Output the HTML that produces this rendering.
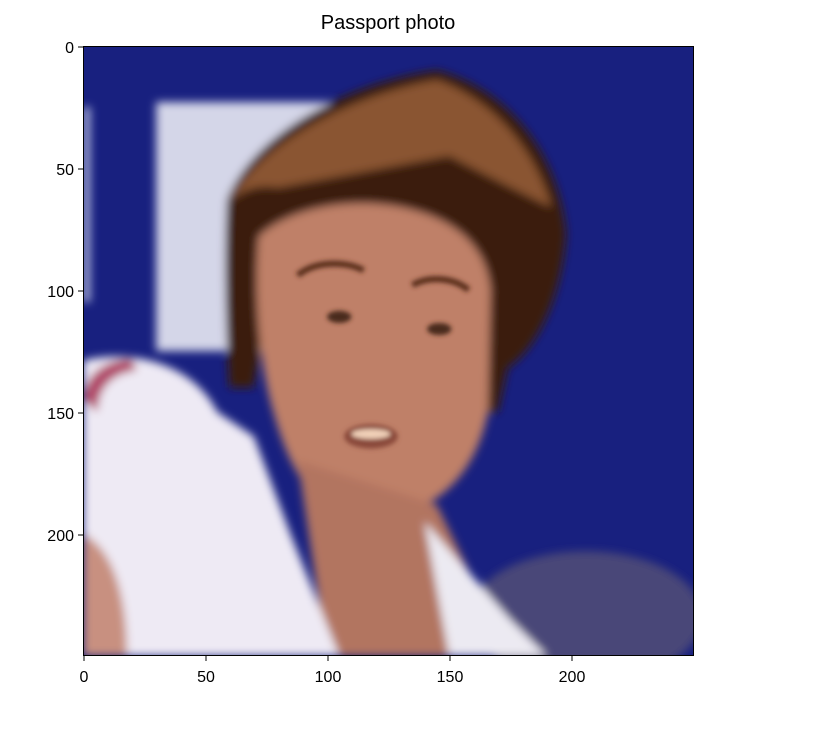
<!DOCTYPE html>
<html><head><meta charset="utf-8"><style>
body{margin:0;background:#fff;width:828px;height:726px;overflow:hidden;font-family:"Liberation Sans","DejaVu Sans",sans-serif;}
</style></head><body>
<svg width="828" height="726" xmlns="http://www.w3.org/2000/svg">
<text x="388" y="29" text-anchor="middle" font-size="20" fill="#000">Passport photo</text>
<svg x="83" y="46" width="610" height="610" viewBox="0 0 250 250" preserveAspectRatio="none">
<defs><filter id="b" x="-20%" y="-20%" width="140%" height="140%"><feGaussianBlur stdDeviation="1.8"/></filter>
<filter id="b2"><feGaussianBlur stdDeviation="1"/></filter></defs>
<rect width="250" height="250" fill="#18207f"/>
<g filter="url(#b)">
<rect x="30" y="23" width="80" height="102" fill="#d4d6e8"/>
<rect x="0" y="25" width="3" height="80" fill="#aab0d8"/>
<path d="M145 10 C175 18 195 45 198 77 C196 105 185 125 174 132 L170 150 L160 150 L150 80 L80 80 L70 140 L60 140 C58 110 58 80 59 63 C70 35 110 15 145 10Z" fill="#3a1f10"/>
<path d="M145 14 C168 22 185 42 192 66 C175 58 160 50 150 45 L80 58 C68 56 62 62 60 64 C72 40 110 20 145 14Z" fill="#8a5430"/>
<path d="M72 78 C85 66 110 62 130 66 C150 70 165 80 167 100 L166 150 C160 180 140 194 115 194 C95 192 85 175 78 150 C72 130 70 100 72 78Z" fill="#bf8068"/>
<path d="M88 170 L145 188 L170 240 L180 250 L100 250 Z" fill="#b27460"/>
<ellipse cx="206" cy="234" rx="48" ry="27" fill="#4a4678"/>
<path d="M0 129 C20 124 45 130 55 150 L70 160 L85 200 L105 250 L0 250 Z" fill="#eeeaf4"/>
<path d="M140 195 L175 235 L190 250 L150 250 Z" fill="#eceaf2"/>
<path d="M0 200 C10 205 18 220 18 250 L0 250Z" fill="#c89080"/>
<path d="M0 145 C0 135 10 128 20 128 L22 133 C12 134 6 140 6 150 Z" fill="#b04668"/>
</g>
<g filter="url(#b2)">
<path d="M88 94 C95 88 108 88 115 92" stroke="#5a2e1c" stroke-width="2.5" fill="none"/>
<path d="M135 98 C142 94 152 95 158 100" stroke="#5a2e1c" stroke-width="2.5" fill="none"/>
<ellipse cx="105" cy="111" rx="5" ry="2.5" fill="#4a2a1c"/>
<ellipse cx="146" cy="116" rx="5" ry="2.5" fill="#4a2a1c"/>
<ellipse cx="118" cy="160" rx="11" ry="5" fill="#8a4a3a"/>
<ellipse cx="118" cy="159" rx="8" ry="2" fill="#f0d0b8"/>
</g>
</svg>
<rect x="83.5" y="46.5" width="610" height="609" fill="none" stroke="#000" stroke-width="1"/>
<g font-size="16" fill="#000">
<g stroke="#000"><line x1="84" y1="656" x2="84" y2="661"/><line x1="206" y1="656" x2="206" y2="661"/><line x1="328" y1="656" x2="328" y2="661"/><line x1="450" y1="656" x2="450" y2="661"/><line x1="572" y1="656" x2="572" y2="661"/></g>
<g text-anchor="middle"><text x="84" y="682">0</text><text x="206" y="682">50</text><text x="328" y="682">100</text><text x="450" y="682">150</text><text x="572" y="682">200</text></g>
</g>
<g font-size="16" fill="#000">
<g stroke="#000"><line x1="78" y1="47" x2="83" y2="47"/><line x1="78" y1="169" x2="83" y2="169"/><line x1="78" y1="291" x2="83" y2="291"/><line x1="78" y1="413" x2="83" y2="413"/><line x1="78" y1="535" x2="83" y2="535"/></g>
<g text-anchor="end"><text x="74" y="53">0</text><text x="74" y="175">50</text><text x="74" y="297">100</text><text x="74" y="419">150</text><text x="74" y="541">200</text></g>
</g>
</svg>
</body></html>
